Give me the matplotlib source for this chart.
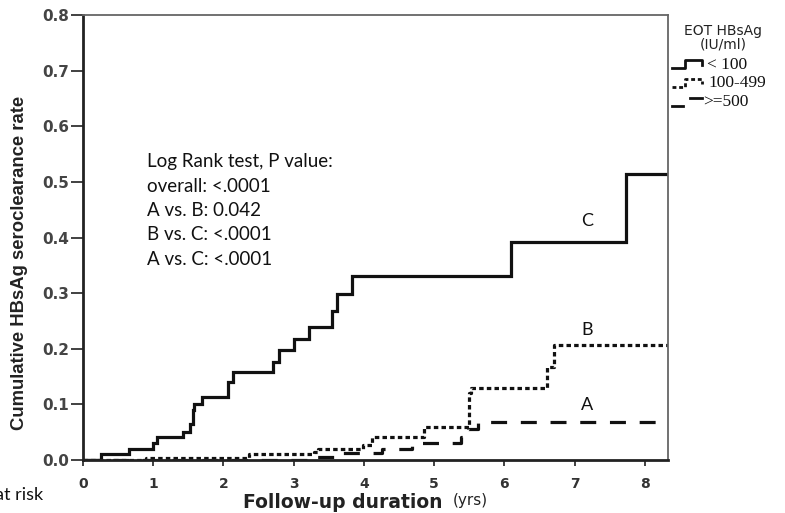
import matplotlib
matplotlib.use("Agg")
import matplotlib.pyplot as plt
from matplotlib.lines import Line2D

# ---- data ----
c_time = [0.0, 0.26, 0.66, 1.00, 1.06, 1.42, 1.52, 1.56, 1.58, 1.70, 2.06, 2.13,
          2.70, 2.79, 3.00, 3.22, 3.55, 3.61, 3.83, 6.10, 7.73, 8.33]
c_rate = [0.0, 0.010, 0.020, 0.030, 0.041, 0.051, 0.065, 0.090, 0.100, 0.114, 0.141, 0.159,
          0.177, 0.198, 0.218, 0.240, 0.268, 0.298, 0.331, 0.392, 0.515, 0.515]

b_time = [0.0, 0.90, 2.36, 3.29, 3.35, 3.98, 4.12, 4.86, 5.50, 5.53, 6.61, 6.70, 8.33]
b_rate = [0.0, 0.004, 0.010, 0.015, 0.019, 0.027, 0.042, 0.059, 0.120, 0.129, 0.168, 0.207, 0.207]

a_time = [0.0, 3.27, 3.57, 4.26, 4.69, 5.38, 5.48, 5.62, 8.33]
a_rate = [0.0, 0.006, 0.012, 0.019, 0.030, 0.042, 0.056, 0.069, 0.069]

group_labels = ["C", "B", "A"]
group_label_pos = [(7.18, 0.43), (7.18, 0.234), (7.18, 0.099)]
legend_title = "EOT HBsAg\n(IU/ml)"
legend_labels = ["< 100", "100-499", ">=500"]
stats_text = ["Log Rank test, P value:", "overall: <.0001", "A vs. B: 0.042",
              "B vs. C: <.0001", "A vs. C: <.0001"]
x_ticks = [0, 1, 2, 3, 4, 5, 6, 7, 8]
y_ticks = [0.0, 0.1, 0.2, 0.3, 0.4, 0.5, 0.6, 0.7, 0.8]

# ---- figure ----
W = 785.0
H = 513.0
fig = plt.figure(figsize=(7.85, 5.13), dpi=100)
ax = fig.add_axes([83 / W, 1 - 460 / H, (668 - 83) / W, (460 - 15) / H])

lc = "#111111"
ax.step(c_time, c_rate, where="post", color=lc, lw=2.3, solid_joinstyle="miter")
ax.step(b_time, b_rate, where="post", color=lc, lw=2.3, linestyle=(0, (1.4, 1.0)))
ax.step(a_time, a_rate, where="post", color=lc, lw=2.3, linestyle=(0, (5, 4.3)))

ax.set_xlim(0, 8.33)
ax.set_ylim(0, 0.8)
ax.set_xticks(x_ticks)
ax.set_yticks(y_ticks)
ax.set_yticklabels([f"{v:.1f}" for v in y_ticks], fontsize=11, fontweight="bold",
                   color="#444444", family="DejaVu Sans")
ax.set_xticklabels([str(v) for v in x_ticks], fontsize=10, fontweight="bold",
                   color="#333333", family="DejaVu Sans")
ax.tick_params(axis="y", length=9, width=1.3, color="#333333", pad=1)
ax.tick_params(axis="x", length=4, width=1.3, color="#333333", pad=8)

for side in ["left", "bottom"]:
    ax.spines[side].set_linewidth(2.0)
    ax.spines[side].set_color("#222222")
for side in ["top", "right"]:
    ax.spines[side].set_linewidth(1.3)
    ax.spines[side].set_color("#666666")

fig.text(20 / W, 1 - 263 / H, "Cumulative HBsAg seroclearance rate", fontsize=13.3,
         fontweight="bold", family="Liberation Sans", color="#222222",
         rotation=90, ha="center", va="center")

# x label: bold part and normal part
fig.text(243 / W, 1 - 503 / H, "Follow-up duration", fontsize=13.5, fontweight="bold",
         family="DejaVu Sans", color="#222222", va="center", ha="left")
fig.text(453 / W, 1 - 501 / H, "(yrs)", fontsize=11,
         family="DejaVu Sans", color="#222222", va="center", ha="left")

# statistics text
for i, s in enumerate(stats_text):
    fig.text(147 / W, 1 - (162 + i * 24.3) / H, s, fontsize=13.5, family="Lato",
             color="#111111", va="center", ha="left")

for lab, (x, y) in zip(group_labels, group_label_pos):
    ax.text(x, y, lab, fontsize=13, family="Lato", color="#111111", ha="center", va="center")

# "at risk" (cut at left edge, as in the reference)
fig.text(43 / W, 1 - 495 / H, "at risk", fontsize=13, family="Lato",
         color="#111111", ha="right", va="center")

# legend
fig.text(723 / W, 1 - 38 / H, legend_title, fontsize=10, family="DejaVu Sans",
         color="#222222", ha="center", va="center", linespacing=0.95)


def fl(xs, ys, **kw):
    fig.add_artist(Line2D([x / W for x in xs], [1 - y / H for y in ys],
                          transform=fig.transFigure, color=lc, lw=2.0, **kw))


fl([672, 685, 685, 702, 702], [68, 68, 60, 60, 65])
fl([672, 685, 685, 702, 702], [87, 87, 79, 79, 84], linestyle=(0, (1.4, 1.0)))
fl([672, 683], [106, 106])
fl([690, 702], [98, 98])
legend_y = [65, 83, 102]
legend_x = [707, 708, 703]
for lab, y, x in zip(legend_labels, legend_y, legend_x):
    fig.text(x / W, 1 - y / H, lab, fontsize=12.5, family="Liberation Serif",
             color="#111111", ha="left", va="center")

fig.savefig("out.png", dpi=100)
